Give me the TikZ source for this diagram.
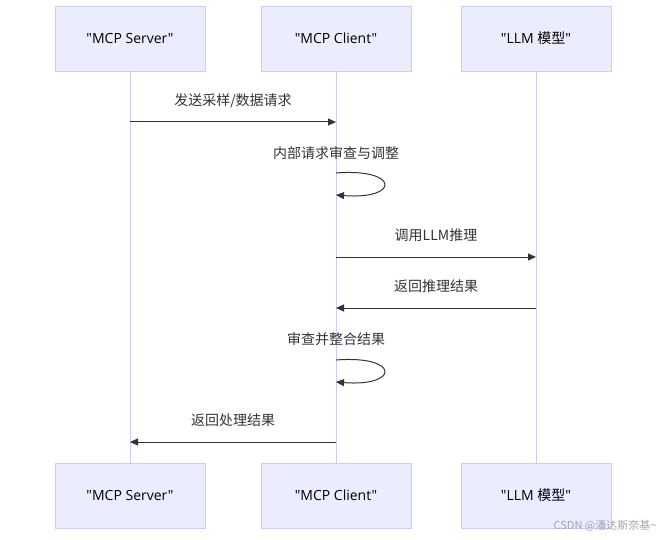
\documentclass[tikz,border=0pt]{standalone}
\usepackage{fontspec}
\setmainfont{Noto Sans CJK SC}
\newfontfamily\lat{Open Sans}
\usetikzlibrary{arrows.meta}
\definecolor{actfill}{HTML}{ECECFF}
\definecolor{actline}{HTML}{CCCCFF}
\definecolor{lifeline}{HTML}{D6C8F0}
\definecolor{msg}{HTML}{333333}
\tikzset{
  x=1pt,y=-1pt,
  actor/.style={draw=actline,fill=actfill,line width=0.8pt,minimum width=150pt,minimum height=65pt,font=\fontsize{14}{16}\selectfont,text=black},
  life/.style={draw=lifeline,line width=1pt},
  msgarrow/.style={draw=msg,line width=1pt,-{Triangle[length=8pt,width=7pt]}},
  lbl/.style={font=\fontsize{14}{16}\selectfont,text=msg}
}
\begin{document}
\begin{tikzpicture}
\useasboundingbox (0,0) rectangle (664,540);
% actors
\node[actor] (s1) at (130,38.5) {\lat "MCP Server"};
\node[actor] (c1) at (336,38.5) {\lat "MCP Client"};
\node[actor] (l1) at (536,38.5) {{\lat "LLM }模型{\lat "}};
\node[actor] (s2) at (130,495.5) {\lat "MCP Server"};
\node[actor] (c2) at (336,495.5) {\lat "MCP Client"};
\node[actor] (l2) at (536,495.5) {{\lat "LLM }模型{\lat "}};
\draw[life] (s1) -- (s2);
\draw[life] (c1) -- (c2);
\draw[life] (l1) -- (l2);
% message anchors
\coordinate (m1a) at (130,122); \coordinate (m1b) at (336,122);
\coordinate (m2a) at (336,173); \coordinate (m2b) at (336,195);
\coordinate (m3a) at (336,257); \coordinate (m3b) at (536,257);
\coordinate (m4a) at (536,308); \coordinate (m4b) at (336,308);
\coordinate (m5a) at (336,360); \coordinate (m5b) at (336,382);
\coordinate (m6a) at (336,442); \coordinate (m6b) at (130,442);
\draw[msgarrow] (m1a) -- (m1b);
\node[lbl] (t1) at (233,101) {发送采样/数据请求};
\draw[msgarrow] (m2a) .. controls (400,168) and (400,200) .. (m2b);
\node[lbl] (t2) at (336,153) {内部请求审查与调整};
\draw[msgarrow] (m3a) -- (m3b);
\node[lbl] (t3) at (436,235) {调用LLM推理};
\draw[msgarrow] (m4a) -- (m4b);
\node[lbl] (t4) at (436,286) {返回推理结果};
\draw[msgarrow] (m5a) .. controls (400,355) and (400,387) .. (m5b);
\node[lbl] (t5) at (336,339) {审查并整合结果};
\draw[msgarrow] (m6a) -- (m6b);
\node[lbl] (t6) at (233,420) {返回处理结果};
\node[font=\fontsize{11}{13}\selectfont,text=gray!70,anchor=east] (wm) at (660,526) {CSDN @潘达斯奈基\textasciitilde};
\end{tikzpicture}
\end{document}
